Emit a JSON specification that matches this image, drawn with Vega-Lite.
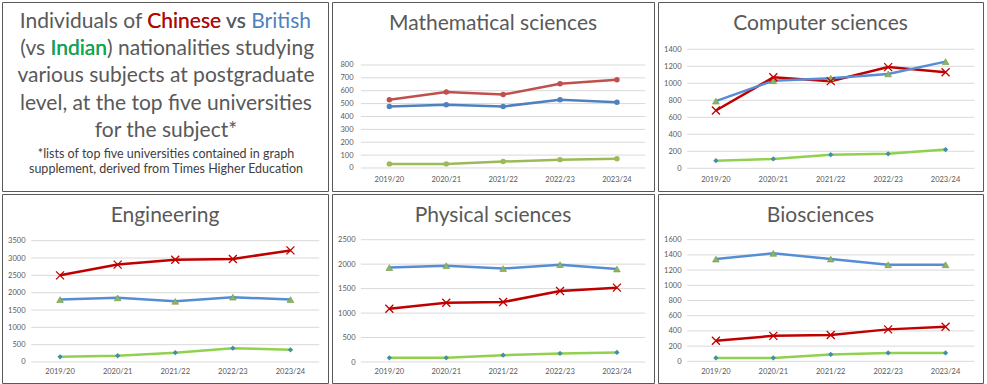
{
  "$schema": "https://vega.github.io/schema/vega-lite/v6.json",
  "background": "white",
  "padding": {"left": 1, "top": 1, "right": 0, "bottom": 0},
  "columns": 3,
  "spacing": {"row": 3, "column": 4},
  "bounds": "flush",
  "config": {
    "view": {"stroke": "#595959", "strokeWidth": 1},
    "axis": {"labelFont": "Lato", "labelColor": "#595959", "labelFontSize": 7.5},
    "title": {"font": "Lato", "fontSize": 21, "color": "#595959", "fontWeight": "normal", "anchor": "middle", "frame": "group", "baseline": "middle", "offset": -31.5},
    "legend": {"disable": true}
  },
  "resolve": {"scale": {"color": "independent"}},
  "datasets": {
    "rows": [
      {"subject": "Mathematical sciences", "year": "2019/20", "nationality": "Chinese", "value": 530},
      {"subject": "Mathematical sciences", "year": "2020/21", "nationality": "Chinese", "value": 590},
      {"subject": "Mathematical sciences", "year": "2021/22", "nationality": "Chinese", "value": 570},
      {"subject": "Mathematical sciences", "year": "2022/23", "nationality": "Chinese", "value": 655},
      {"subject": "Mathematical sciences", "year": "2023/24", "nationality": "Chinese", "value": 685},
      {"subject": "Mathematical sciences", "year": "2019/20", "nationality": "British", "value": 478},
      {"subject": "Mathematical sciences", "year": "2020/21", "nationality": "British", "value": 492},
      {"subject": "Mathematical sciences", "year": "2021/22", "nationality": "British", "value": 478},
      {"subject": "Mathematical sciences", "year": "2022/23", "nationality": "British", "value": 530},
      {"subject": "Mathematical sciences", "year": "2023/24", "nationality": "British", "value": 510},
      {"subject": "Mathematical sciences", "year": "2019/20", "nationality": "Indian", "value": 32},
      {"subject": "Mathematical sciences", "year": "2020/21", "nationality": "Indian", "value": 32},
      {"subject": "Mathematical sciences", "year": "2021/22", "nationality": "Indian", "value": 50},
      {"subject": "Mathematical sciences", "year": "2022/23", "nationality": "Indian", "value": 65},
      {"subject": "Mathematical sciences", "year": "2023/24", "nationality": "Indian", "value": 72},
      {"subject": "Computer sciences", "year": "2019/20", "nationality": "Chinese", "value": 680},
      {"subject": "Computer sciences", "year": "2020/21", "nationality": "Chinese", "value": 1070},
      {"subject": "Computer sciences", "year": "2021/22", "nationality": "Chinese", "value": 1025},
      {"subject": "Computer sciences", "year": "2022/23", "nationality": "Chinese", "value": 1190},
      {"subject": "Computer sciences", "year": "2023/24", "nationality": "Chinese", "value": 1130},
      {"subject": "Computer sciences", "year": "2019/20", "nationality": "British", "value": 790},
      {"subject": "Computer sciences", "year": "2020/21", "nationality": "British", "value": 1030},
      {"subject": "Computer sciences", "year": "2021/22", "nationality": "British", "value": 1060},
      {"subject": "Computer sciences", "year": "2022/23", "nationality": "British", "value": 1110},
      {"subject": "Computer sciences", "year": "2023/24", "nationality": "British", "value": 1255},
      {"subject": "Computer sciences", "year": "2019/20", "nationality": "Indian", "value": 90},
      {"subject": "Computer sciences", "year": "2020/21", "nationality": "Indian", "value": 110},
      {"subject": "Computer sciences", "year": "2021/22", "nationality": "Indian", "value": 160},
      {"subject": "Computer sciences", "year": "2022/23", "nationality": "Indian", "value": 170},
      {"subject": "Computer sciences", "year": "2023/24", "nationality": "Indian", "value": 220},
      {"subject": "Engineering", "year": "2019/20", "nationality": "Chinese", "value": 2500},
      {"subject": "Engineering", "year": "2020/21", "nationality": "Chinese", "value": 2810},
      {"subject": "Engineering", "year": "2021/22", "nationality": "Chinese", "value": 2950},
      {"subject": "Engineering", "year": "2022/23", "nationality": "Chinese", "value": 2970},
      {"subject": "Engineering", "year": "2023/24", "nationality": "Chinese", "value": 3220},
      {"subject": "Engineering", "year": "2019/20", "nationality": "British", "value": 1800},
      {"subject": "Engineering", "year": "2020/21", "nationality": "British", "value": 1850},
      {"subject": "Engineering", "year": "2021/22", "nationality": "British", "value": 1750},
      {"subject": "Engineering", "year": "2022/23", "nationality": "British", "value": 1870},
      {"subject": "Engineering", "year": "2023/24", "nationality": "British", "value": 1800},
      {"subject": "Engineering", "year": "2019/20", "nationality": "Indian", "value": 150},
      {"subject": "Engineering", "year": "2020/21", "nationality": "Indian", "value": 180},
      {"subject": "Engineering", "year": "2021/22", "nationality": "Indian", "value": 270},
      {"subject": "Engineering", "year": "2022/23", "nationality": "Indian", "value": 400},
      {"subject": "Engineering", "year": "2023/24", "nationality": "Indian", "value": 350},
      {"subject": "Physical sciences", "year": "2019/20", "nationality": "Chinese", "value": 1090},
      {"subject": "Physical sciences", "year": "2020/21", "nationality": "Chinese", "value": 1210},
      {"subject": "Physical sciences", "year": "2021/22", "nationality": "Chinese", "value": 1225},
      {"subject": "Physical sciences", "year": "2022/23", "nationality": "Chinese", "value": 1450},
      {"subject": "Physical sciences", "year": "2023/24", "nationality": "Chinese", "value": 1520},
      {"subject": "Physical sciences", "year": "2019/20", "nationality": "British", "value": 1930},
      {"subject": "Physical sciences", "year": "2020/21", "nationality": "British", "value": 1970},
      {"subject": "Physical sciences", "year": "2021/22", "nationality": "British", "value": 1910},
      {"subject": "Physical sciences", "year": "2022/23", "nationality": "British", "value": 1990},
      {"subject": "Physical sciences", "year": "2023/24", "nationality": "British", "value": 1900},
      {"subject": "Physical sciences", "year": "2019/20", "nationality": "Indian", "value": 85},
      {"subject": "Physical sciences", "year": "2020/21", "nationality": "Indian", "value": 85},
      {"subject": "Physical sciences", "year": "2021/22", "nationality": "Indian", "value": 140},
      {"subject": "Physical sciences", "year": "2022/23", "nationality": "Indian", "value": 175},
      {"subject": "Physical sciences", "year": "2023/24", "nationality": "Indian", "value": 195},
      {"subject": "Biosciences", "year": "2019/20", "nationality": "Chinese", "value": 270},
      {"subject": "Biosciences", "year": "2020/21", "nationality": "Chinese", "value": 335},
      {"subject": "Biosciences", "year": "2021/22", "nationality": "Chinese", "value": 345},
      {"subject": "Biosciences", "year": "2022/23", "nationality": "Chinese", "value": 420},
      {"subject": "Biosciences", "year": "2023/24", "nationality": "Chinese", "value": 455},
      {"subject": "Biosciences", "year": "2019/20", "nationality": "British", "value": 1345},
      {"subject": "Biosciences", "year": "2020/21", "nationality": "British", "value": 1420},
      {"subject": "Biosciences", "year": "2021/22", "nationality": "British", "value": 1345},
      {"subject": "Biosciences", "year": "2022/23", "nationality": "British", "value": 1270},
      {"subject": "Biosciences", "year": "2023/24", "nationality": "British", "value": 1270},
      {"subject": "Biosciences", "year": "2019/20", "nationality": "Indian", "value": 45},
      {"subject": "Biosciences", "year": "2020/21", "nationality": "Indian", "value": 45},
      {"subject": "Biosciences", "year": "2021/22", "nationality": "Indian", "value": 90},
      {"subject": "Biosciences", "year": "2022/23", "nationality": "Indian", "value": 110},
      {"subject": "Biosciences", "year": "2023/24", "nationality": "Indian", "value": 110}
    ]
  },
  "data": {"name": "rows"},
  "concat": [
    {
      "width": 326, "height": 189,
      "layer": [
        {"data": {"values": [{"text": "Individuals of Chinese"}]},
         "mark": {"type": "text", "align": "right", "baseline": "middle", "font": "Lato", "fontSize": 21, "color": "#595959"},
         "encoding": {"x": {"datum": 67.2, "type": "quantitative", "scale": {"domain": [0, 100], "nice": false, "zero": false}, "axis": null},
                      "y": {"datum": 1, "type": "quantitative", "scale": {"domain": [0.266, 7.202], "reverse": true, "nice": false, "zero": false}, "axis": null},
                      "text": {"field": "text"}}},
        {"data": {"values": [{"text": "Chinese"}]},
         "mark": {"type": "text", "align": "right", "baseline": "middle", "font": "Lato", "fontSize": 21, "color": "#C00000"},
         "encoding": {"x": {"datum": 67.2, "type": "quantitative"}, "y": {"datum": 1, "type": "quantitative"}, "text": {"field": "text"}}},
        {"data": {"values": [{"text": "vs British"}]},
         "mark": {"type": "text", "align": "left", "baseline": "middle", "font": "Lato", "fontSize": 21, "color": "#4F81BD", "dx": 5},
         "encoding": {"x": {"datum": 67.2, "type": "quantitative"}, "y": {"datum": 1, "type": "quantitative"}, "text": {"field": "text"}}},
        {"data": {"values": [{"text": "vs"}]},
         "mark": {"type": "text", "align": "left", "baseline": "middle", "font": "Lato", "fontSize": 21, "color": "#595959", "dx": 5},
         "encoding": {"x": {"datum": 67.2, "type": "quantitative"}, "y": {"datum": 1, "type": "quantitative"}, "text": {"field": "text"}}},
        {"data": {"values": [{"text": "(vs Indian"}]},
         "mark": {"type": "text", "align": "right", "baseline": "middle", "font": "Lato", "fontSize": 21, "color": "#595959"},
         "encoding": {"x": {"datum": 32.2, "type": "quantitative"}, "y": {"datum": 2, "type": "quantitative"}, "text": {"field": "text"}}},
        {"data": {"values": [{"text": "Indian"}]},
         "mark": {"type": "text", "align": "right", "baseline": "middle", "font": "Lato", "fontSize": 21, "color": "#00B050"},
         "encoding": {"x": {"datum": 32.2, "type": "quantitative"}, "y": {"datum": 2, "type": "quantitative"}, "text": {"field": "text"}}},
        {"data": {"values": [{"text": ") nationalities studying"}]},
         "mark": {"type": "text", "align": "left", "baseline": "middle", "font": "Lato", "fontSize": 21, "color": "#595959"},
         "encoding": {"x": {"datum": 32.2, "type": "quantitative"}, "y": {"datum": 2, "type": "quantitative"}, "text": {"field": "text"}}},
        {"data": {"values": [
           {"line": 3, "text": "various subjects at postgraduate"},
           {"line": 4, "text": "level, at the top five universities"},
           {"line": 5, "text": "for the subject*"}]},
         "mark": {"type": "text", "align": "center", "baseline": "middle", "font": "Lato", "fontSize": 21, "color": "#595959"},
         "encoding": {"x": {"datum": 50.3, "type": "quantitative"}, "y": {"field": "line", "type": "quantitative"}, "text": {"field": "text"}}},
        {"data": {"values": [{"text": "*lists of top five universities contained in graph\nsupplement, derived from Times Higher Education"}]},
         "mark": {"type": "text", "align": "center", "baseline": "middle", "font": "Lato", "fontSize": 12.5, "lineHeight": 15, "lineBreak": "\n", "color": "#404040"},
         "encoding": {"x": {"datum": 50.3, "type": "quantitative"}, "y": {"datum": 5.844, "type": "quantitative"}, "text": {"field": "text"}}}
      ]
    },
    {
      "width": 322, "height": 189,
      "title": "Mathematical sciences",
      "resolve": {"scale": {"x": "independent"}, "axis": {"x": "independent"}},
      "encoding": {
        "y": {"field": "value", "type": "quantitative", "scale": {"domain": [-178.6, 1289], "nice": false, "zero": false},
              "axis": {"title": null, "values": [0, 100, 200, 300, 400, 500, 600, 700, 800], "grid": false, "domain": false, "ticks": false, "tickSize": 0, "labelPadding": 0, "offset": -21, "format": "d"}}
      },
      "layer": [
        {"data": {"values": [{"value": 0}, {"value": 100}, {"value": 200}, {"value": 300}, {"value": 400}, {"value": 500}, {"value": 600}, {"value": 700}, {"value": 800}]},
         "mark": {"type": "rule", "color": "#D9D9D9", "strokeWidth": 1},
         "encoding": {"x": {"datum": 0, "type": "quantitative", "scale": {"domain": [-0.10164, 1.03036], "nice": false, "zero": false}, "axis": null}, "x2": {"datum": 1}}},
        {
          "encoding": {
            "x": {"field": "year", "type": "nominal", "scale": {"type": "band", "paddingInner": 0, "paddingOuter": 0.33, "align": 0.77},
                  "axis": {"title": null, "labelAngle": 0, "domain": false, "ticks": false, "tickSize": 0, "labelPadding": 0, "offset": -16, "labelBaseline": "top"}}
          },
          "layer": [
            {"transform": [{"filter": "datum.subject === 'Mathematical sciences'"}],
             "mark": {"type": "line", "strokeWidth": 2.5},
             "encoding": {"color": {"field": "nationality", "type": "nominal", "scale": {"domain": ["British", "Indian", "Chinese"], "range": ["#4F81BD", "#9BBB59", "#C0504D"]}}}},
            {"transform": [{"filter": "datum.subject === 'Mathematical sciences'"}],
             "mark": {"type": "point", "shape": "circle", "filled": true, "size": 30, "opacity": 1},
             "encoding": {"color": {"field": "nationality", "type": "nominal"}}}
          ]
        }
      ]
    },
    {
      "width": 325, "height": 189,
      "title": "Computer sciences",
      "resolve": {"scale": {"x": "independent"}, "axis": {"x": "independent"}},
      "encoding": {
        "y": {"field": "value", "type": "quantitative", "scale": {"domain": [-267, 1956], "nice": false, "zero": false},
              "axis": {"title": null, "values": [0, 200, 400, 600, 800, 1000, 1200, 1400], "grid": false, "domain": false, "ticks": false, "tickSize": 0, "labelPadding": 0, "offset": -23, "format": "d"}}
      },
      "layer": [
        {"data": {"values": [{"value": 0}, {"value": 200}, {"value": 400}, {"value": 600}, {"value": 800}, {"value": 1000}, {"value": 1200}, {"value": 1400}]},
         "mark": {"type": "rule", "color": "#D9D9D9", "strokeWidth": 1},
         "encoding": {"x": {"datum": 0, "type": "quantitative", "scale": {"domain": [-0.10164, 1.03036], "nice": false, "zero": false}, "axis": null}, "x2": {"datum": 1}}},
        {
          "encoding": {
            "x": {"field": "year", "type": "nominal", "scale": {"type": "band", "paddingInner": 0, "paddingOuter": 0.33, "align": 0.77},
                  "axis": {"title": null, "labelAngle": 0, "domain": false, "ticks": false, "tickSize": 0, "labelPadding": 0, "offset": -16, "labelBaseline": "top"}}
          },
          "layer": [
            {"transform": [{"filter": "datum.subject === 'Computer sciences'"}],
             "mark": {"type": "line", "strokeWidth": 2.5},
             "encoding": {"color": {"field": "nationality", "type": "nominal", "scale": {"domain": ["British", "Indian", "Chinese"], "range": ["#558ED5", "#92D050", "#C00000"]}}}},
            {"transform": [{"filter": "datum.subject === 'Computer sciences' && datum.nationality === 'British'"}],
             "mark": {"type": "point", "shape": "triangle-up", "filled": true, "color": "#8DB462", "stroke": "#6F9A4C", "strokeWidth": 0.6, "size": 45, "opacity": 1}},
            {"transform": [{"filter": "datum.subject === 'Computer sciences' && datum.nationality === 'Indian'"}],
             "mark": {"type": "point", "shape": "diamond", "filled": true, "color": "#3F8FA8", "size": 28, "opacity": 1}},
            {"transform": [{"filter": "datum.subject === 'Computer sciences' && datum.nationality === 'Chinese'"}],
             "mark": {"type": "point", "shape": "M-1,-1L1,1M-1,1L1,-1", "filled": false, "color": "#C00000", "strokeWidth": 1.3, "size": 64, "opacity": 1}}
          ]
        }
      ]
    },
    {
      "width": 326, "height": 189,
      "title": "Engineering",
      "resolve": {"scale": {"x": "independent"}, "axis": {"x": "independent"}},
      "encoding": {
        "y": {"field": "value", "type": "quantitative", "scale": {"domain": [-606, 4847], "nice": false, "zero": false},
              "axis": {"title": null, "values": [0, 500, 1000, 1500, 2000, 2500, 3000, 3500], "grid": false, "domain": false, "ticks": false, "tickSize": 0, "labelPadding": 0, "offset": -23, "format": "d"}}
      },
      "layer": [
        {"data": {"values": [{"value": 0}, {"value": 500}, {"value": 1000}, {"value": 1500}, {"value": 2000}, {"value": 2500}, {"value": 3000}, {"value": 3500}]},
         "mark": {"type": "rule", "color": "#D9D9D9", "strokeWidth": 1},
         "encoding": {"x": {"datum": 0, "type": "quantitative", "scale": {"domain": [-0.10164, 1.03036], "nice": false, "zero": false}, "axis": null}, "x2": {"datum": 1}}},
        {
          "encoding": {
            "x": {"field": "year", "type": "nominal", "scale": {"type": "band", "paddingInner": 0, "paddingOuter": 0.33, "align": 0.77},
                  "axis": {"title": null, "labelAngle": 0, "domain": false, "ticks": false, "tickSize": 0, "labelPadding": 0, "offset": -16, "labelBaseline": "top"}}
          },
          "layer": [
            {"transform": [{"filter": "datum.subject === 'Engineering'"}],
             "mark": {"type": "line", "strokeWidth": 2.5},
             "encoding": {"color": {"field": "nationality", "type": "nominal", "scale": {"domain": ["British", "Indian", "Chinese"], "range": ["#558ED5", "#92D050", "#C00000"]}}}},
            {"transform": [{"filter": "datum.subject === 'Engineering' && datum.nationality === 'British'"}],
             "mark": {"type": "point", "shape": "triangle-up", "filled": true, "color": "#8DB462", "stroke": "#6F9A4C", "strokeWidth": 0.6, "size": 45, "opacity": 1}},
            {"transform": [{"filter": "datum.subject === 'Engineering' && datum.nationality === 'Indian'"}],
             "mark": {"type": "point", "shape": "diamond", "filled": true, "color": "#3F8FA8", "size": 28, "opacity": 1}},
            {"transform": [{"filter": "datum.subject === 'Engineering' && datum.nationality === 'Chinese'"}],
             "mark": {"type": "point", "shape": "M-1,-1L1,1M-1,1L1,-1", "filled": false, "color": "#C00000", "strokeWidth": 1.3, "size": 64, "opacity": 1}}
          ]
        }
      ]
    },
    {
      "width": 322, "height": 189,
      "title": "Physical sciences",
      "resolve": {"scale": {"x": "independent"}, "axis": {"x": "independent"}},
      "encoding": {
        "y": {"field": "value", "type": "quantitative", "scale": {"domain": [-429, 3434], "nice": false, "zero": false},
              "axis": {"title": null, "values": [0, 500, 1000, 1500, 2000, 2500], "grid": false, "domain": false, "ticks": false, "tickSize": 0, "labelPadding": 0, "offset": -23, "format": "d"}}
      },
      "layer": [
        {"data": {"values": [{"value": 0}, {"value": 500}, {"value": 1000}, {"value": 1500}, {"value": 2000}, {"value": 2500}]},
         "mark": {"type": "rule", "color": "#D9D9D9", "strokeWidth": 1},
         "encoding": {"x": {"datum": 0, "type": "quantitative", "scale": {"domain": [-0.10164, 1.03036], "nice": false, "zero": false}, "axis": null}, "x2": {"datum": 1}}},
        {
          "encoding": {
            "x": {"field": "year", "type": "nominal", "scale": {"type": "band", "paddingInner": 0, "paddingOuter": 0.33, "align": 0.77},
                  "axis": {"title": null, "labelAngle": 0, "domain": false, "ticks": false, "tickSize": 0, "labelPadding": 0, "offset": -16, "labelBaseline": "top"}}
          },
          "layer": [
            {"transform": [{"filter": "datum.subject === 'Physical sciences'"}],
             "mark": {"type": "line", "strokeWidth": 2.5},
             "encoding": {"color": {"field": "nationality", "type": "nominal", "scale": {"domain": ["British", "Indian", "Chinese"], "range": ["#558ED5", "#92D050", "#C00000"]}}}},
            {"transform": [{"filter": "datum.subject === 'Physical sciences' && datum.nationality === 'British'"}],
             "mark": {"type": "point", "shape": "triangle-up", "filled": true, "color": "#8DB462", "stroke": "#6F9A4C", "strokeWidth": 0.6, "size": 45, "opacity": 1}},
            {"transform": [{"filter": "datum.subject === 'Physical sciences' && datum.nationality === 'Indian'"}],
             "mark": {"type": "point", "shape": "diamond", "filled": true, "color": "#3F8FA8", "size": 28, "opacity": 1}},
            {"transform": [{"filter": "datum.subject === 'Physical sciences' && datum.nationality === 'Chinese'"}],
             "mark": {"type": "point", "shape": "M-1,-1L1,1M-1,1L1,-1", "filled": false, "color": "#C00000", "strokeWidth": 1.3, "size": 64, "opacity": 1}}
          ]
        }
      ]
    },
    {
      "width": 325, "height": 189,
      "title": "Biosciences",
      "resolve": {"scale": {"x": "independent"}, "axis": {"x": "independent"}},
      "encoding": {
        "y": {"field": "value", "type": "quantitative", "scale": {"domain": [-285.5, 2201], "nice": false, "zero": false},
              "axis": {"title": null, "values": [0, 200, 400, 600, 800, 1000, 1200, 1400, 1600], "grid": false, "domain": false, "ticks": false, "tickSize": 0, "labelPadding": 0, "offset": -23, "format": "d"}}
      },
      "layer": [
        {"data": {"values": [{"value": 0}, {"value": 200}, {"value": 400}, {"value": 600}, {"value": 800}, {"value": 1000}, {"value": 1200}, {"value": 1400}, {"value": 1600}]},
         "mark": {"type": "rule", "color": "#D9D9D9", "strokeWidth": 1},
         "encoding": {"x": {"datum": 0, "type": "quantitative", "scale": {"domain": [-0.10164, 1.03036], "nice": false, "zero": false}, "axis": null}, "x2": {"datum": 1}}},
        {
          "encoding": {
            "x": {"field": "year", "type": "nominal", "scale": {"type": "band", "paddingInner": 0, "paddingOuter": 0.33, "align": 0.77},
                  "axis": {"title": null, "labelAngle": 0, "domain": false, "ticks": false, "tickSize": 0, "labelPadding": 0, "offset": -16, "labelBaseline": "top"}}
          },
          "layer": [
            {"transform": [{"filter": "datum.subject === 'Biosciences'"}],
             "mark": {"type": "line", "strokeWidth": 2.5},
             "encoding": {"color": {"field": "nationality", "type": "nominal", "scale": {"domain": ["British", "Indian", "Chinese"], "range": ["#558ED5", "#92D050", "#C00000"]}}}},
            {"transform": [{"filter": "datum.subject === 'Biosciences' && datum.nationality === 'British'"}],
             "mark": {"type": "point", "shape": "triangle-up", "filled": true, "color": "#8DB462", "stroke": "#6F9A4C", "strokeWidth": 0.6, "size": 45, "opacity": 1}},
            {"transform": [{"filter": "datum.subject === 'Biosciences' && datum.nationality === 'Indian'"}],
             "mark": {"type": "point", "shape": "diamond", "filled": true, "color": "#3F8FA8", "size": 28, "opacity": 1}},
            {"transform": [{"filter": "datum.subject === 'Biosciences' && datum.nationality === 'Chinese'"}],
             "mark": {"type": "point", "shape": "M-1,-1L1,1M-1,1L1,-1", "filled": false, "color": "#C00000", "strokeWidth": 1.3, "size": 64, "opacity": 1}}
          ]
        }
      ]
    }
  ]
}
